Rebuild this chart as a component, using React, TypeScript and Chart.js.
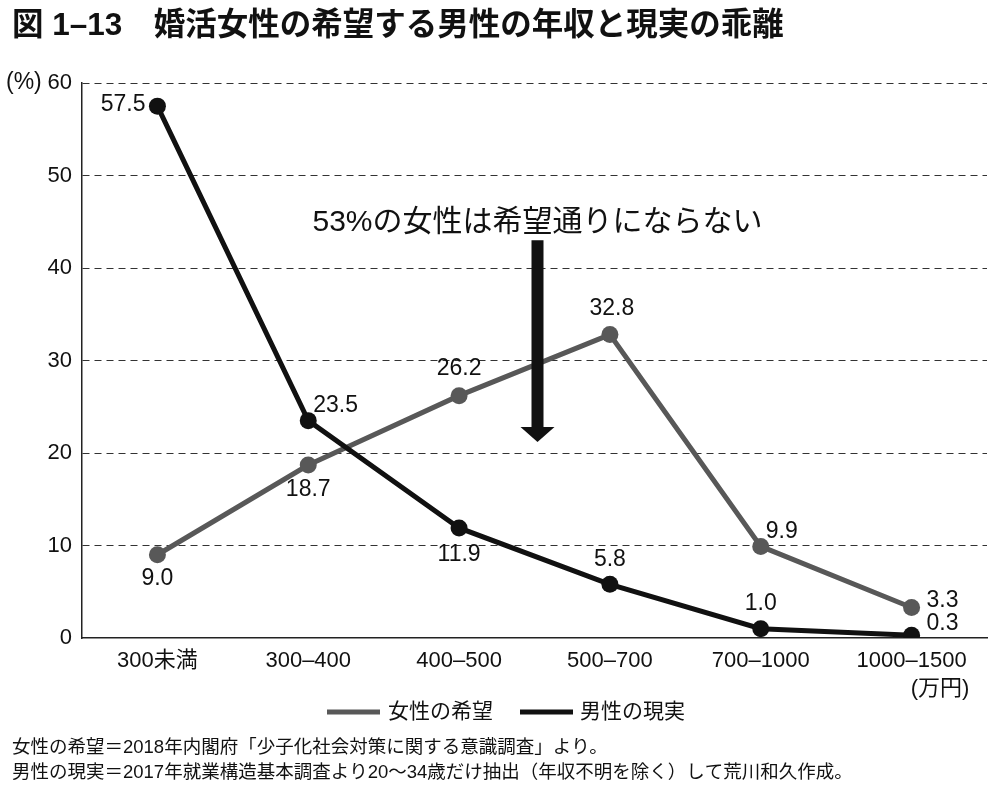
import React, { useEffect, useRef } from "react";
import { Chart, registerables } from "chart.js";

Chart.register(...registerables);

const TITLE = "図 1–13　婚活女性の希望する男性の年収と現実の乖離";
const CATEGORIES = ["300未満", "300–400", "400–500", "500–700", "700–1000", "1000–1500"];
const FEMALE_LABEL = "女性の希望";
const MALE_LABEL = "男性の現実";
const FEMALE_WISH = [9.0, 18.7, 26.2, 32.8, 9.9, 3.3];
const MALE_REALITY = [57.5, 23.5, 11.9, 5.8, 1.0, 0.3];
const Y_MIN = 0;
const Y_MAX = 60;
const Y_STEP = 10;
const Y_UNIT = "(%)";
const X_UNIT = "(万円)";
const ANNOTATION = "53%の女性は希望通りにならない";
const ARROW_X_INDEX = 2.5;
const ARROW_FROM = 43;
const ARROW_TO = 21.2;
const FOOTNOTES = [
  "女性の希望＝2018年内閣府「少子化社会対策に関する意識調査」より。",
  "男性の現実＝2017年就業構造基本調査より20〜34歳だけ抽出（年収不明を除く）して荒川和久作成。",
];

// label placement styles: [dx, dy, align]
const FEMALE_LABEL_POS: [number, number, CanvasTextAlign][] = [
  [0, 24, "center"],
  [0, 25, "center"],
  [0, -27, "center"],
  [2, -26, "center"],
  [5, -15, "left"],
  [15, -7, "left"],
];
const MALE_LABEL_POS: [number, number, CanvasTextAlign][] = [
  [-12, -1, "right"],
  [5, -15, "left"],
  [0, 27, "center"],
  [0, -25, "center"],
  [0, -25, "center"],
  [15, -12, "left"],
];

const FONT = '"Liberation Sans", "Noto Sans CJK JP", sans-serif';
const FEMALE_COLOR = "#585858";
const MALE_COLOR = "#111111";
const TEXT_COLOR = "#111111";

const overlayPlugin = {
  id: "overlay",
  afterDatasetsDraw(chart: any) {
    const ctx: CanvasRenderingContext2D = chart.ctx;
    ctx.save();
    ctx.font = `23px ${FONT}`;
    ctx.fillStyle = TEXT_COLOR;
    ctx.textBaseline = "middle";
    const sets: [number, number[], [number, number, CanvasTextAlign][]][] = [
      [0, FEMALE_WISH, FEMALE_LABEL_POS],
      [1, MALE_REALITY, MALE_LABEL_POS],
    ];
    sets.forEach(([di, values, pos]) => {
      const meta = chart.getDatasetMeta(di);
      meta.data.forEach((pt: any, i: number) => {
        const [dx, dy, align] = pos[i];
        ctx.textAlign = align;
        ctx.fillText(values[i].toFixed(1), pt.x + dx, pt.y + dy);
      });
    });
    ctx.restore();
  },
  afterDraw(chart: any) {
    const ctx: CanvasRenderingContext2D = chart.ctx;
    const xs = chart.scales.x;
    const ys = chart.scales.y;
    ctx.save();
    ctx.fillStyle = TEXT_COLOR;
    ctx.textBaseline = "middle";

    // title
    ctx.font = `bold 31.5px ${FONT}`;
    ctx.textAlign = "left";
    ctx.fillText(TITLE, 12, 26);

    // y unit
    ctx.font = `23px ${FONT}`;
    ctx.textAlign = "left";
    ctx.fillText(Y_UNIT, 6, ys.getPixelForValue(Y_MAX));

    // x unit
    ctx.font = `22px ${FONT}`;
    ctx.textAlign = "center";
    ctx.fillText(X_UNIT, 940, 689);

    // arrow
    const ax = xs.getPixelForValue(ARROW_X_INDEX) + 3;
    const ay1 = ys.getPixelForValue(ARROW_FROM);
    const ay2 = ys.getPixelForValue(ARROW_TO);
    ctx.fillStyle = "#111";
    ctx.fillRect(ax - 6, ay1, 12, ay2 - ay1 - 14);
    ctx.beginPath();
    ctx.moveTo(ax - 17, ay2 - 15);
    ctx.lineTo(ax + 17, ay2 - 15);
    ctx.lineTo(ax, ay2);
    ctx.closePath();
    ctx.fill();

    // annotation text
    ctx.fillStyle = TEXT_COLOR;
    ctx.font = `30px ${FONT}`;
    ctx.textAlign = "center";
    ctx.fillText(ANNOTATION, ax, ay1 - 18);

    // legend
    const ly = 712;
    ctx.lineWidth = 5;
    ctx.strokeStyle = FEMALE_COLOR;
    ctx.beginPath();
    ctx.moveTo(327, ly);
    ctx.lineTo(380, ly);
    ctx.stroke();
    ctx.strokeStyle = MALE_COLOR;
    ctx.beginPath();
    ctx.moveTo(520, ly);
    ctx.lineTo(573, ly);
    ctx.stroke();
    ctx.font = `21px ${FONT}`;
    ctx.textAlign = "left";
    ctx.fillText(FEMALE_LABEL, 388, ly);
    ctx.fillText(MALE_LABEL, 580, ly);

    // footnotes
    ctx.font = `18.5px ${FONT}`;
    ctx.fillText(FOOTNOTES[0], 12, 748);
    ctx.fillText(FOOTNOTES[1], 12, 773);
    ctx.restore();
  },
};

export default function App() {
  const ref = useRef<HTMLCanvasElement | null>(null);
  useEffect(() => {
    if (!ref.current) return;
    const chart = new Chart(ref.current, {
      type: "line",
      data: {
        labels: CATEGORIES,
        datasets: [
          {
            label: FEMALE_LABEL,
            data: FEMALE_WISH,
            borderColor: FEMALE_COLOR,
            backgroundColor: FEMALE_COLOR,
            pointBackgroundColor: FEMALE_COLOR,
            borderWidth: 5,
            pointRadius: 8.5,
            pointBorderWidth: 0,
            tension: 0,
            order: 2,
          },
          {
            label: MALE_LABEL,
            data: MALE_REALITY,
            borderColor: MALE_COLOR,
            backgroundColor: MALE_COLOR,
            pointBackgroundColor: MALE_COLOR,
            borderWidth: 5,
            pointRadius: 8.5,
            pointBorderWidth: 0,
            tension: 0,
            order: 1,
          },
        ],
      },
      options: {
        responsive: false,
        animation: false,
        layout: { padding: { top: 83, left: 0, right: 13, bottom: 113 } },
        plugins: {
          legend: { display: false },
          title: { display: false },
          tooltip: { enabled: false },
        },
        scales: {
          x: {
            offset: true,
            grid: { display: false, drawTicks: false },
            border: { display: true, color: "#222", width: 1.5 },
            ticks: {
              color: TEXT_COLOR,
              font: { family: FONT, size: 22 },
              padding: 10,
              maxRotation: 0,
              autoSkip: false,
            },
            afterFit: (s: any) => {
              s.height = 40;
            },
          },
          y: {
            min: Y_MIN,
            max: Y_MAX,
            ticks: {
              stepSize: Y_STEP,
              color: TEXT_COLOR,
              font: { family: FONT, size: 22 },
              padding: 10,
            },
            grid: {
              drawTicks: false,
              color: (c: any) => (c.tick && c.tick.value === 0 ? "rgba(0,0,0,0)" : "#333"),
              lineWidth: 1,
            },
            border: { display: true, color: "#222", width: 1.5, dash: [7, 5] },
            afterFit: (s: any) => {
              s.width = 82;
            },
          },
        },
      },
      plugins: [overlayPlugin],
    });
    return () => chart.destroy();
  }, []);
  return (
    <div style={{ position: "absolute", left: 0, top: 0, width: 1000, height: 791, background: "#fff" }}>
      <canvas ref={ref} width={1000} height={791} />
    </div>
  );
}
